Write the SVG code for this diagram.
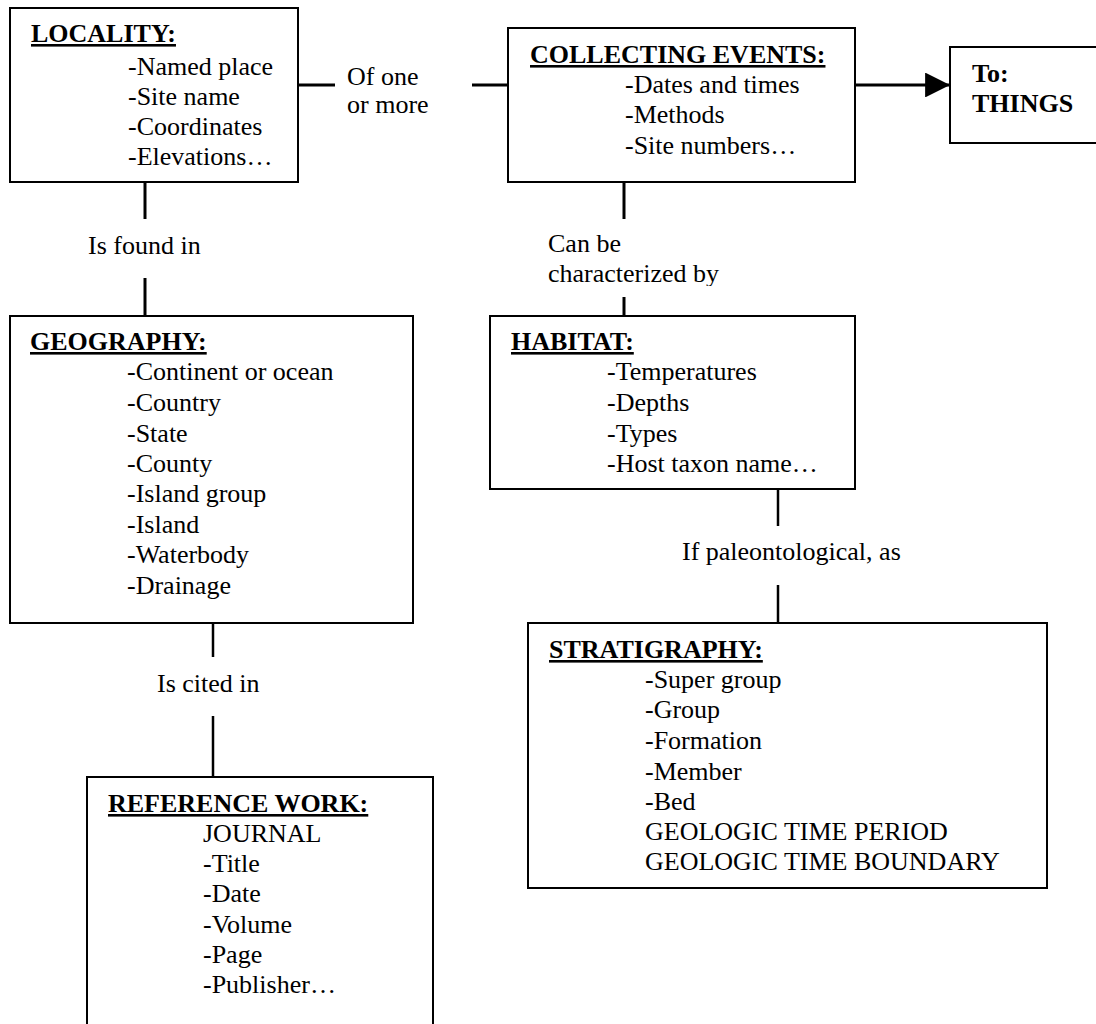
<svg xmlns="http://www.w3.org/2000/svg" width="1096" height="1024" viewBox="0 0 1096 1024" font-family="'Liberation Serif', 'Times New Roman', serif">
<defs>
<style>
.box{fill:#fff;stroke:#000;stroke-width:2}
text{font-family:"Liberation Serif","Times New Roman",serif;font-size:26px;fill:#000}
.t{font-weight:bold;text-decoration:underline}
.b{font-weight:bold}
.c{stroke:#000;stroke-width:3;fill:none}
.c2{stroke:#000;stroke-width:2.5;fill:none}
</style>
<marker id="ah" viewBox="0 0 10 10" refX="10" refY="5" markerWidth="8.3" markerHeight="8.3" markerUnits="strokeWidth" orient="auto">
<path d="M0,0 L10,5 L0,10 Z" fill="#000"/>
</marker>
<clipPath id="clipby"><rect x="540" y="260" width="200" height="26"/></clipPath>
</defs>
<rect width="1096" height="1024" fill="#fff"/>
<g id="connectors">
<line class="c" x1="298" y1="85" x2="335" y2="85"/>
<line class="c" x1="472" y1="85" x2="508" y2="85"/>
<line class="c" x1="855" y1="85" x2="950" y2="85" marker-end="url(#ah)"/>
<line class="c" x1="145" y1="182" x2="145" y2="219"/>
<line class="c" x1="145" y1="278" x2="145" y2="316"/>
<line class="c" x1="624" y1="182" x2="624" y2="219"/>
<line class="c" x1="624" y1="297" x2="624" y2="316"/>
<line class="c2" x1="778" y1="489" x2="778" y2="526"/>
<line class="c2" x1="778" y1="585" x2="778" y2="623"/>
<line class="c2" x1="213" y1="623" x2="213" y2="657"/>
<line class="c2" x1="213" y1="716" x2="213" y2="777"/>
<text x="347" y="85">Of one</text>
<text x="347" y="113">or more</text>
<text x="88" y="254">Is found in</text>
<text x="548" y="252">Can be</text>
<text x="548" y="282" clip-path="url(#clipby)">characterized by</text>
<text x="682" y="560">If paleontological, as</text>
<text x="157" y="692">Is cited in</text>
</g>
<g id="locality">
<rect class="box" x="10" y="8" width="288" height="174"/>
<text class="t" x="31" y="42">LOCALITY:</text>
<text x="128" y="75">-Named place</text>
<text x="128" y="105">-Site name</text>
<text x="128" y="135">-Coordinates</text>
<text x="128" y="165">-Elevations…</text>
</g>
<g id="collecting-events">
<rect class="box" x="508" y="28" width="347" height="154"/>
<text class="t" x="530" y="63">COLLECTING EVENTS:</text>
<text x="625" y="93">-Dates and times</text>
<text x="625" y="123">-Methods</text>
<text x="625" y="154">-Site numbers…</text>
</g>
<g id="things">
<rect class="box" x="950" y="47" width="160" height="96"/>
<text class="b" x="972" y="82">To:</text>
<text class="b" x="972" y="112">THINGS</text>
</g>
<g id="geography">
<rect class="box" x="10" y="316" width="403" height="307"/>
<text class="t" x="30" y="350">GEOGRAPHY:</text>
<text x="127" y="380">-Continent or ocean</text>
<text x="127" y="411">-Country</text>
<text x="127" y="442">-State</text>
<text x="127" y="472">-County</text>
<text x="127" y="502">-Island group</text>
<text x="127" y="533">-Island</text>
<text x="127" y="563">-Waterbody</text>
<text x="127" y="594">-Drainage</text>
</g>
<g id="habitat">
<rect class="box" x="490" y="316" width="365" height="173"/>
<text class="t" x="511" y="350">HABITAT:</text>
<text x="607" y="380">-Temperatures</text>
<text x="607" y="411">-Depths</text>
<text x="607" y="442">-Types</text>
<text x="607" y="472">-Host taxon name…</text>
</g>
<g id="stratigraphy">
<rect class="box" x="528" y="623" width="519" height="265"/>
<text class="t" x="549" y="658">STRATIGRAPHY:</text>
<text x="645" y="688">-Super group</text>
<text x="645" y="718">-Group</text>
<text x="645" y="749">-Formation</text>
<text x="645" y="780">-Member</text>
<text x="645" y="810">-Bed</text>
<text x="645" y="840">GEOLOGIC TIME PERIOD</text>
<text x="645" y="870">GEOLOGIC TIME BOUNDARY</text>
</g>
<g id="reference-work">
<rect class="box" x="87" y="777" width="346" height="260"/>
<text class="t" x="108" y="812">REFERENCE WORK:</text>
<text x="203" y="842">JOURNAL</text>
<text x="203" y="872">-Title</text>
<text x="203" y="902">-Date</text>
<text x="203" y="933">-Volume</text>
<text x="203" y="963">-Page</text>
<text x="203" y="993">-Publisher…</text>
</g>
</svg>
